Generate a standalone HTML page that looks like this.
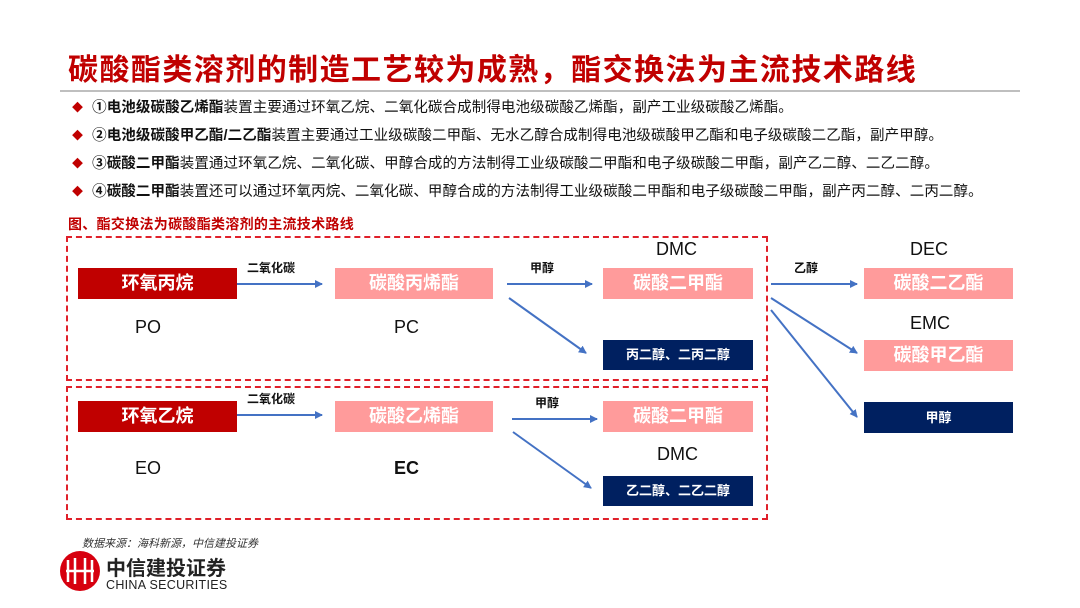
<!DOCTYPE html>
<html><head><meta charset="utf-8"><style>
body{margin:0;width:1080px;height:608px;background:#fff;position:relative;overflow:hidden;font-family:"Liberation Sans","Noto Sans CJK SC",sans-serif}
.a{position:absolute;white-space:nowrap}
.t{left:68px;top:45px;font-size:30px;font-weight:bold;color:#c00000;letter-spacing:1.45px}
.hr{left:60px;top:90px;width:960px;height:2px;background:#bfbfbf}
.b{font-size:14.5px;color:#111;left:72px;letter-spacing:0.1px}
.b i{font-style:normal;color:#c00000;font-size:11px;margin-right:9px;vertical-align:1px}
.cap{left:68px;top:214px;font-size:14px;font-weight:bold;color:#c00000;letter-spacing:0.3px}
.dash{border:2px dashed #e0202a;box-sizing:border-box}
.bx{height:31px;line-height:31px;text-align:center;color:#fff;font-weight:bold;font-size:18px}
.r{background:#c00000}.p{background:#ff9b9b}.n{background:#002060;font-size:13px}
.lb{font-size:18px;color:#111}
.sm{font-size:12px;font-weight:bold;color:#111}
</style></head><body>
<div class="a t">碳酸酯类溶剂的制造工艺较为成熟，酯交换法为主流技术路线</div>
<div class="a hr"></div>
<div class="a b" style="top:96px"><i>◆</i><b>①电池级碳酸乙烯酯</b>装置主要通过环氧乙烷、二氧化碳合成制得电池级碳酸乙烯酯，副产工业级碳酸乙烯酯。</div>
<div class="a b" style="top:124px"><i>◆</i><b>②电池级碳酸甲乙酯/二乙酯</b>装置主要通过工业级碳酸二甲酯、无水乙醇合成制得电池级碳酸甲乙酯和电子级碳酸二乙酯，副产甲醇。</div>
<div class="a b" style="top:152px"><i>◆</i><b>③碳酸二甲酯</b>装置通过环氧乙烷、二氧化碳、甲醇合成的方法制得工业级碳酸二甲酯和电子级碳酸二甲酯，副产乙二醇、二乙二醇。</div>
<div class="a b" style="top:180px"><i>◆</i><b>④碳酸二甲酯</b>装置还可以通过环氧丙烷、二氧化碳、甲醇合成的方法制得工业级碳酸二甲酯和电子级碳酸二甲酯，副产丙二醇、二丙二醇。</div>
<div class="a cap">图、酯交换法为碳酸酯类溶剂的主流技术路线</div>
<div class="a dash" style="left:66px;top:236px;width:702px;height:145px"></div>
<div class="a dash" style="left:66px;top:386px;width:702px;height:134px"></div>

<div class="a bx r" style="left:78px;top:268px;width:159px">环氧丙烷</div>
<div class="a bx p" style="left:335px;top:268px;width:158px">碳酸丙烯酯</div>
<div class="a bx p" style="left:603px;top:268px;width:150px">碳酸二甲酯</div>
<div class="a bx n" style="left:603px;top:340px;width:150px;height:30px;line-height:30px">丙二醇、二丙二醇</div>
<div class="a bx p" style="left:864px;top:268px;width:149px">碳酸二乙酯</div>
<div class="a bx p" style="left:864px;top:340px;width:149px">碳酸甲乙酯</div>
<div class="a bx n" style="left:864px;top:402px;width:149px">甲醇</div>
<div class="a bx r" style="left:78px;top:401px;width:159px">环氧乙烷</div>
<div class="a bx p" style="left:335px;top:401px;width:158px">碳酸乙烯酯</div>
<div class="a bx p" style="left:603px;top:401px;width:150px">碳酸二甲酯</div>
<div class="a bx n" style="left:603px;top:476px;width:150px;height:30px;line-height:30px">乙二醇、二乙二醇</div>

<div class="a lb" style="left:135px;top:317px">PO</div>
<div class="a lb" style="left:394px;top:317px">PC</div>
<div class="a lb" style="left:656px;top:239px">DMC</div>
<div class="a lb" style="left:910px;top:239px">DEC</div>
<div class="a lb" style="left:910px;top:313px">EMC</div>
<div class="a lb" style="left:135px;top:458px">EO</div>
<div class="a lb" style="left:394px;top:458px;font-weight:bold">EC</div>
<div class="a lb" style="left:657px;top:444px">DMC</div>
<div class="a sm" style="left:247px;top:259px">二氧化碳</div>
<div class="a sm" style="left:530px;top:259px">甲醇</div>
<div class="a sm" style="left:794px;top:259px">乙醇</div>
<div class="a sm" style="left:247px;top:390px">二氧化碳</div>
<div class="a sm" style="left:535px;top:394px">甲醇</div>

<svg class="a" style="left:0;top:0" width="1080" height="608">
<defs><marker id="m" markerWidth="8" markerHeight="8" refX="7" refY="4" orient="auto" markerUnits="userSpaceOnUse"><path d="M0,0L8,4L0,8z" fill="#4472c4"/></marker></defs>
<g stroke="#4472c4" stroke-width="2" marker-end="url(#m)">
<line x1="237" y1="284" x2="322" y2="284"/>
<line x1="507" y1="284" x2="592" y2="284"/>
<line x1="509" y1="298" x2="586" y2="353"/>
<line x1="237" y1="415" x2="322" y2="415"/>
<line x1="512" y1="419" x2="597" y2="419"/>
<line x1="513" y1="432" x2="591" y2="488"/>
<line x1="771" y1="284" x2="857" y2="284"/>
<line x1="771" y1="298" x2="857" y2="353"/>
<line x1="771" y1="310" x2="857" y2="417"/>
</g>
<circle cx="80" cy="571" r="20" fill="#d7000f"/>
<g stroke="#fff" stroke-width="2.5" fill="none"><path d="M68,560v22M92,560v22M75,558v26M85,558v26M66,571h28"/></g>
</svg>
<div class="a" style="left:82px;top:535px;font-size:11px;font-style:italic;color:#333">数据来源：海科新源，中信建投证券</div>
<div class="a" style="left:106px;top:552px;font-size:20px;font-weight:bold;color:#222">中信建投证券</div>
<div class="a" style="left:106px;top:578px;font-size:12.5px;color:#222;letter-spacing:0.3px">CHINA SECURITIES</div>
</body></html>
